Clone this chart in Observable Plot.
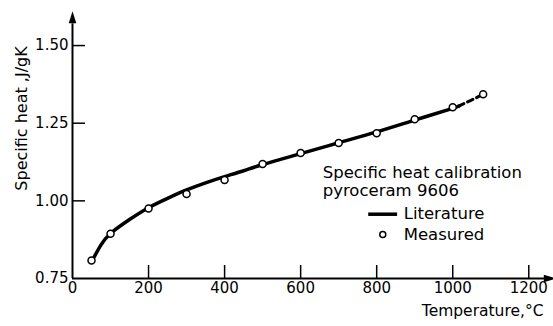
<!DOCTYPE html>
<html><head><meta charset="utf-8">
<script src="https://cdn.jsdelivr.net/npm/d3@7"></script>
<script src="https://cdn.jsdelivr.net/npm/@observablehq/plot@0.6"></script>
<style>body{margin:0;background:#fff}</style>
</head><body><div id="chart"></div>
<script>
// Measured points (temperature °C, specific heat J/gK)
const measuredT = [50, 100, 200, 300, 400, 500, 600, 700, 800, 900, 1000, 1080];
const measuredCp = [0.808, 0.894, 0.975, 1.022, 1.067, 1.119, 1.154, 1.186, 1.218, 1.263, 1.301, 1.343];
// Literature curve (solid part)
const litT = [55, 75, 100, 150, 200, 250, 300, 350, 400, 450, 500, 600, 700, 800, 900, 1000, 1015];
const litCp = [0.815, 0.858, 0.895, 0.940, 0.978, 1.008, 1.035, 1.058, 1.078, 1.097, 1.117, 1.152, 1.187, 1.222, 1.260, 1.298, 1.305];
// Literature extrapolation (dashed part)
const extT = [1015, 1045, 1075];
const extCp = [1.305, 1.322, 1.340];
const xTicks = [200, 400, 600, 800, 1000, 1200];
const xLabels = [0, 200, 400, 600, 800, 1000, 1200];
const yTicks = [1.00, 1.25, 1.50];
const yLabels = [0.75, 1.00, 1.25, 1.50];
const legendTitle = ["Specific heat calibration", "pyroceram 9606"];
const legendItems = ["Literature", "Measured"];
const yLabel = "Specific heat ,J/gK";
const xLabel = "Temperature,°C";

const measured = measuredT.map((t, i) => ({t, cp: measuredCp[i]}));
const lit = litT.map((t, i) => ({t, cp: litCp[i]}));
const ext = extT.map((t, i) => ({t, cp: extCp[i]}));

const narrowTri = {draw(ctx, size) {
  ctx.moveTo(0, -8); ctx.lineTo(3.8, 4); ctx.lineTo(-3.8, 4); ctx.closePath();
}};
const font = "DejaVu Sans, sans-serif";

const plot = Plot.plot({
  width: 553, height: 326,
  marginLeft: 72, marginRight: 0, marginTop: 14, marginBottom: 48,
  style: {fontFamily: font, background: "#fff", color: "#000"},
  x: {domain: [0, 1265]},
  y: {domain: [0.75, 1.6]},
  marks: [
    Plot.ruleY([0.75], {stroke: "#000", strokeWidth: 2, x1: 0, x2: 1250}),
    Plot.ruleX([0], {stroke: "#000", strokeWidth: 2, y1: 0.75, y2: 1.57}),
    Plot.dot([{t: 0, cp: 1.585}], {x: "t", y: "cp", symbol: narrowTri, fill: "#000", stroke: null}),
    Plot.dot([{t: 1250, cp: 0.75}], {x: "t", y: "cp", symbol: narrowTri, rotate: 90, fill: "#000", stroke: null}),
    Plot.axisY({ticks: yTicks, tickSize: -13, tickFormat: () => "", label: null, strokeWidth: 1.5}),
    Plot.axisY({ticks: yLabels, tickSize: 0, tickPadding: 4, tickFormat: d3.format(".2f"), label: null, fontSize: 15, style: {letterSpacing: "-1px"}}),
    Plot.axisX({ticks: xTicks, tickSize: -13, tickFormat: () => "", label: null, strokeWidth: 1.5}),
    Plot.axisX({ticks: xLabels, tickSize: 0, tickPadding: 4, tickFormat: d => String(d), label: null, fontSize: 15, style: {letterSpacing: "-0.5px"}}),
    Plot.line(lit, {x: "t", y: "cp", curve: "natural", stroke: "#000", strokeWidth: 3.5}),
    Plot.line(ext, {x: "t", y: "cp", curve: "natural", stroke: "#000", strokeWidth: 3, strokeDasharray: "6,4"}),
    Plot.dot(measured, {x: "t", y: "cp", r: 3.5, fill: "#fff", stroke: "#000", strokeWidth: 1.5}),
    Plot.text([yLabel], {frameAnchor: "left", textAnchor: "middle", rotate: -90, dx: -51, dy: -28, fontSize: 16, fill: "#000"}),
    Plot.text([xLabel], {frameAnchor: "bottom-right", textAnchor: "end", dx: -10, dy: 37, fontSize: 15.5, fill: "#000"}),
    Plot.text([legendTitle[0]], {x: 658, y: 1.091, textAnchor: "start", fontSize: 16.5, fill: "#000"}),
    Plot.text([legendTitle[1]], {x: 658, y: 1.033, textAnchor: "start", fontSize: 16.5, fill: "#000"}),
    Plot.ruleY([0.957], {x1: 779, x2: 855, stroke: "#000", strokeWidth: 3.5}),
    Plot.text([legendItems[0]], {x: 871, y: 0.959, textAnchor: "start", fontSize: 16.5, fill: "#000"}),
    Plot.dot([{t: 816, cp: 0.892}], {x: "t", y: "cp", r: 3, fill: "#fff", stroke: "#000", strokeWidth: 1.5}),
    Plot.text([legendItems[1]], {x: 871, y: 0.892, textAnchor: "start", fontSize: 16.5, fill: "#000"})
  ]
});
document.getElementById("chart").append(plot);
</script>
</body></html>
